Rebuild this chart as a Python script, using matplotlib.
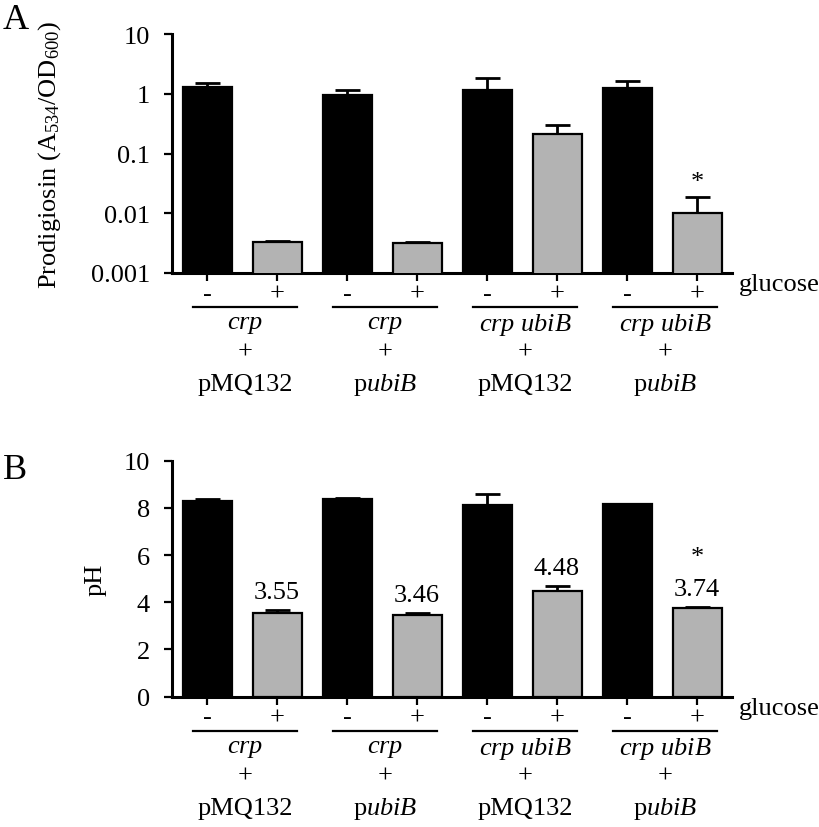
import matplotlib.pyplot as plt
import numpy as np

plt.rcParams['font.family'] = 'Liberation Serif'
plt.rcParams['mathtext.fontset'] = 'custom'
plt.rcParams['mathtext.rm'] = 'Liberation Serif'
plt.rcParams['mathtext.it'] = 'Liberation Serif:italic'

# data
glucose = ['-', '+', '-', '+', '-', '+', '-', '+']
strains = ['$\\mathit{crp}$', '$\\mathit{crp}$', '$\\mathit{crp\\ ubiB}$', '$\\mathit{crp\\ ubiB}$']
plasmids = ['pMQ132', 'p$\\mathit{ubiB}$', 'pMQ132', 'p$\\mathit{ubiB}$']

prodig = [1.3, 0.0033, 0.95, 0.0032, 1.15, 0.21, 1.25, 0.0102]
prodig_err = [0.2, 0.0001, 0.22, 0.0001, 0.7, 0.085, 0.38, 0.0083]
ph = [8.30, 3.55, 8.37, 3.46, 8.12, 4.48, 8.15, 3.74]
ph_err = [0.08, 0.12, 0.04, 0.07, 0.47, 0.22, 0.0, 0.07]
star_idx = 7

colors = ['black', '#b3b3b3'] * 4
x = np.arange(len(glucose))
fs = 19

fig = plt.figure(figsize=(8.2, 8.28), dpi=100)
axA = fig.add_axes([0.2098, 0.6691, 0.6829, 0.2886])
axB = fig.add_axes([0.2098, 0.1574, 0.6829, 0.2850])


def style(ax, vals, errs):
    ax.bar(x, vals, width=0.7, color=colors, edgecolor='black', linewidth=1.6, zorder=3)
    ax.errorbar(x, vals, yerr=[np.zeros(len(errs)), errs], fmt='none', ecolor='black',
                elinewidth=2, capsize=9, capthick=2, zorder=2)
    ax.set_xlim(-0.5, 7.5)
    for s in ['top', 'right']:
        ax.spines[s].set_visible(False)
    for s in ['left', 'bottom']:
        ax.spines[s].set_linewidth(2.2)
    ax.tick_params(axis='y', width=1.6, length=6, labelsize=fs, pad=10)
    ax.tick_params(axis='x', width=1.6, length=6, labelsize=fs, pad=1)
    ax.set_xticks(x)
    ax.set_xticklabels(glucose)
    ax.minorticks_off()
    ax.text(7.6, 0, 'glucose', transform=ax.get_xaxis_transform(), fontsize=fs,
            ha='left', va='top')


def groups(ax, hpx):
    tr = ax.get_xaxis_transform()
    for g in range(4):
        x0 = 2 * g - 0.2
        x1 = 2 * g + 1.29
        xc = 2 * g + 0.545
        ax.plot([x0, x1], [-34 / hpx, -34 / hpx], color='black', lw=1.6,
                transform=tr, clip_on=False)
        ax.text(xc, -51 / hpx, strains[g], transform=tr, fontsize=fs, ha='center', va='center')
        ax.text(xc, -79 / hpx, '+', transform=tr, fontsize=fs, ha='center', va='center')
        ax.text(xc, -111 / hpx, plasmids[g], transform=tr, fontsize=fs, ha='center', va='center')


# panel A
style(axA, prodig, prodig_err)
axA.set_yscale('log')
axA.set_ylim(0.001, 10)
axA.set_yticks([0.001, 0.01, 0.1, 1, 10])
axA.set_yticklabels(['0.001', '0.01', '0.1', '1', '10'])
axA.minorticks_off()
axA.set_xticks(x)
axA.set_xticklabels(glucose)
axA.set_ylabel('Prodigiosin (A$_\\mathrm{534}$/OD$_\\mathrm{600}$)', fontsize=fs, labelpad=20)
groups(axA, 239)
axA.annotate('*', xy=(star_idx, prodig[star_idx] + prodig_err[star_idx]), xytext=(0, 3),
             textcoords='offset points', ha='center', va='bottom', fontsize=fs)

# panel B
style(axB, ph, ph_err)
axB.set_ylim(0, 10)
axB.set_yticks([0, 2, 4, 6, 8, 10])
axB.set_ylabel('pH', fontsize=fs, labelpad=12)
groups(axB, 236)
for i in range(1, 8, 2):
    axB.annotate('%.2f' % ph[i], xy=(i, ph[i] + ph_err[i]), xytext=(0, 5),
                 textcoords='offset points', ha='center', va='bottom', fontsize=fs)
axB.annotate('*', xy=(star_idx, ph[star_idx] + ph_err[star_idx]), xytext=(0, 28),
             textcoords='offset points', ha='center', va='bottom', fontsize=fs)

fig.text(0.003, 0.975, 'A', fontsize=26, ha='left', va='center')
fig.text(0.003, 0.432, 'B', fontsize=26, ha='left', va='center')

fig.savefig('out.png', dpi=100)
